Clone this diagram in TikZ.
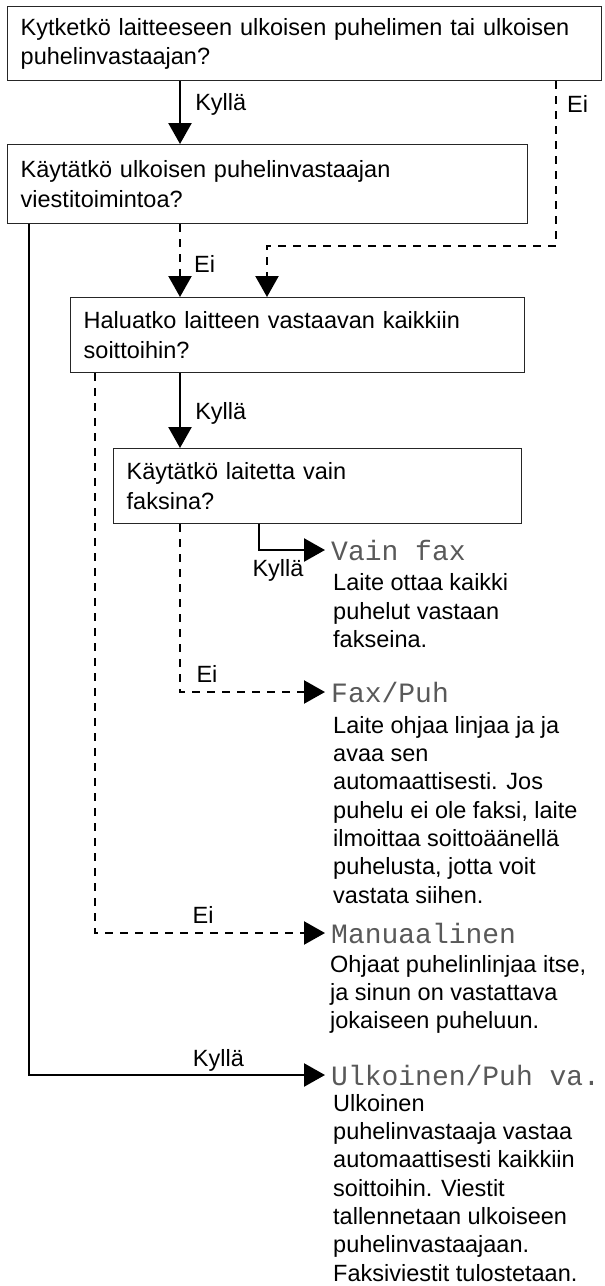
\documentclass[tikz,border=0pt]{standalone}
\usepackage{fontspec}
\setmainfont{Liberation Sans}
\newfontfamily\lcdfont{Liberation Mono}
\usetikzlibrary{arrows.meta}
\tikzset{
  qbox/.style={draw=black!85, line width=1.4pt, anchor=north west, align=left,
    inner xsep=13pt, inner ysep=0pt, font=\fontsize{23.5}{29.5}\selectfont},
  yes/.style={line width=2.5pt, -{Triangle[length=21pt,width=23pt]}},
  no/.style={line width=2.3pt, dash pattern=on 8pt off 7pt, -{Triangle[length=21pt,width=23pt]}},
  lbl/.style={inner sep=0pt, font=\fontsize{23.5}{28}\selectfont},
  mode/.style={anchor=west, inner xsep=6pt, inner ysep=0pt, text=black!65,
    font=\lcdfont\fontsize{28}{30}\selectfont},
  info/.style={anchor=north west, align=left, inner sep=0pt,
    font=\fontsize{23.5}{28.3}\selectfont},
}
\begin{document}
\begin{tikzpicture}[x=1pt,y=-1pt]
\useasboundingbox (0,0) rectangle (605,1286);
\node[qbox, text width=568pt, minimum height=74pt] (q1) at (7,6)
  {Kytketkö laitteeseen ulkoisen puhelimen tai ulkoisen\\puhelinvastaajan?};
\node[qbox, text width=494pt, minimum height=79pt] (q2) at (7,144)
  {Käytätkö ulkoisen puhelinvastaajan\\viestitoimintoa?};
\node[qbox, text width=428pt, minimum height=75pt] (q3) at (70,297)
  {Haluatko laitteen vastaavan kaikkiin\\soittoihin?};
\node[qbox, text width=382pt, minimum height=75pt] (q4) at (113,448)
  {Käytätkö laitetta vain\\faksina?};
\node[mode] (m1) at (325,550) {Vain fax};
\node[info] (d1) at (333,573.5) {Laite ottaa kaikki\\puhelut vastaan\\fakseina.};
\node[mode] (m2) at (325,692) {Fax/Puh};
\node[info] (d2) at (333,716) {Laite ohjaa linjaa ja ja\\avaa sen\\automaattisesti. Jos\\puhelu ei ole faksi, laite\\ilmoittaa soittoäänellä\\puhelusta, jotta voit\\vastata siihen.};
\node[mode] (m3) at (325,933) {Manuaalinen};
\node[info] (d3) at (330,955) {Ohjaat puhelinlinjaa itse,\\ja sinun on vastattava\\jokaiseen puheluun.};
\node[mode] (m4) at (325,1075) {Ulkoinen/Puh va.};
\node[info] (d4) at (333,1094) {Ulkoinen\\puhelinvastaaja vastaa\\automaattisesti kaikkiin\\soittoihin. Viestit\\tallennetaan ulkoiseen\\puhelinvastaajaan.\\Faksiviestit tulostetaan.};
\coordinate (colA) at (180,0);
\coordinate (colB) at (556,246);
\coordinate (colC) at (267,246);
\coordinate (colD) at (29,0);
\coordinate (colE) at (95,0);
\coordinate (colF) at (259,0);
\draw[yes] (q1.south -| colA) -- node[lbl, anchor=west, xshift=14pt, pos=0.36] {Kyllä} (q2.north -| colA);
\draw[no] (q1.south -| colB) -- node[lbl, anchor=west, xshift=10pt, pos=0.14] {Ei} (colB) -- (colC) -- (q3.north -| colC);
\draw[no] (q2.south -| colA) -- node[lbl, anchor=west, xshift=13pt, pos=0.54] {Ei} (q3.north -| colA);
\draw[yes] (q2.south -| colD) |- node[lbl, anchor=base, yshift=9pt, pos=0.82] {Kyllä} (m4.west);
\draw[yes] (q3.south -| colA) -- node[lbl, anchor=west, xshift=14pt, pos=0.54] {Kyllä} (q4.north -| colA);
\draw[no] (q3.south -| colE) |- node[lbl, anchor=south, yshift=8.5pt, pos=0.735] {Ei} (m3.west);
\draw[yes] (q4.south -| colF) |- node[lbl, anchor=north, yshift=-8.6pt, pos=0.644] {Kyllä} (m1.west);
\draw[no] (q4.south -| colA) |- node[lbl, anchor=south, yshift=8.6pt, pos=0.593] {Ei} (m2.west);
\end{tikzpicture}
\end{document}
